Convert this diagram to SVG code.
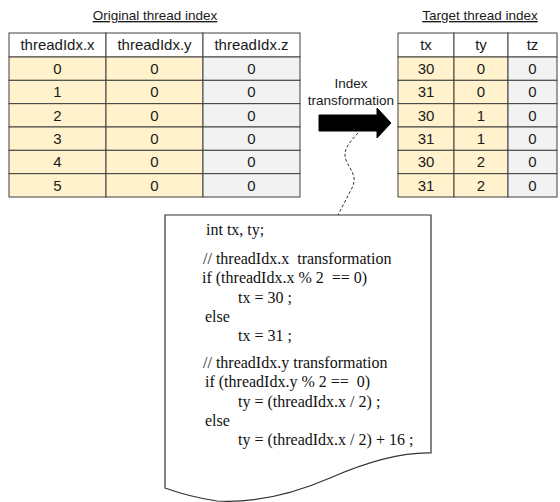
<svg xmlns="http://www.w3.org/2000/svg" width="560" height="502" viewBox="0 0 560 502">
<style>
.t{font-family:"Liberation Sans",Arial,sans-serif;font-size:15px;fill:#1a1a1a;text-anchor:middle}
.ti{font-family:"Liberation Sans",Arial,sans-serif;font-size:13.5px;fill:#1a1a1a;text-anchor:middle;text-decoration:underline}
.c{font-family:"Liberation Serif","Times New Roman",serif;font-size:16px;fill:#111;white-space:pre}
.y{fill:#FFF2CC;stroke:#404040;stroke-width:1}
.g{fill:#F2F2F2;stroke:#404040;stroke-width:1}
.w{fill:#FFFFFF;stroke:#404040;stroke-width:1}
</style>
<g id="title-original"><text class="ti" x="155" y="20">Original thread index</text></g>
<g id="title-target"><text class="ti" x="480" y="20">Target thread index</text></g>

<g id="table-original">
<rect class="w" x="9" y="33" width="97" height="24"/>
<rect class="w" x="106" y="33" width="97" height="24"/>
<rect class="w" x="203" y="33" width="97" height="24"/>
<text class="t" x="57.5" y="50">threadIdx.x</text>
<text class="t" x="154.5" y="50">threadIdx.y</text>
<text class="t" x="251.5" y="50">threadIdx.z</text>
<rect class="y" x="9" y="57" width="97" height="23.33"/><rect class="y" x="106" y="57" width="97" height="23.33"/><rect class="g" x="203" y="57" width="97" height="23.33"/>
<rect class="y" x="9" y="80.33" width="97" height="23.33"/><rect class="y" x="106" y="80.33" width="97" height="23.33"/><rect class="g" x="203" y="80.33" width="97" height="23.33"/>
<rect class="y" x="9" y="103.67" width="97" height="23.33"/><rect class="y" x="106" y="103.67" width="97" height="23.33"/><rect class="g" x="203" y="103.67" width="97" height="23.33"/>
<rect class="y" x="9" y="127" width="97" height="23.33"/><rect class="y" x="106" y="127" width="97" height="23.33"/><rect class="g" x="203" y="127" width="97" height="23.33"/>
<rect class="y" x="9" y="150.33" width="97" height="23.33"/><rect class="y" x="106" y="150.33" width="97" height="23.33"/><rect class="g" x="203" y="150.33" width="97" height="23.33"/>
<rect class="y" x="9" y="173.67" width="97" height="23.33"/><rect class="y" x="106" y="173.67" width="97" height="23.33"/><rect class="g" x="203" y="173.67" width="97" height="23.33"/>
<text class="t" x="57.5" y="74">0</text><text class="t" x="154.5" y="74">0</text><text class="t" x="251.5" y="74">0</text>
<text class="t" x="57.5" y="97.3">1</text><text class="t" x="154.5" y="97.3">0</text><text class="t" x="251.5" y="97.3">0</text>
<text class="t" x="57.5" y="120.7">2</text><text class="t" x="154.5" y="120.7">0</text><text class="t" x="251.5" y="120.7">0</text>
<text class="t" x="57.5" y="144">3</text><text class="t" x="154.5" y="144">0</text><text class="t" x="251.5" y="144">0</text>
<text class="t" x="57.5" y="167.3">4</text><text class="t" x="154.5" y="167.3">0</text><text class="t" x="251.5" y="167.3">0</text>
<text class="t" x="57.5" y="190.7">5</text><text class="t" x="154.5" y="190.7">0</text><text class="t" x="251.5" y="190.7">0</text>
</g>

<g id="table-target">
<rect class="w" x="398" y="33" width="56" height="24"/>
<rect class="w" x="454" y="33" width="54" height="24"/>
<rect class="w" x="508" y="33" width="49" height="24"/>
<text class="t" x="426" y="50">tx</text>
<text class="t" x="481" y="50">ty</text>
<text class="t" x="532.5" y="50">tz</text>
<rect class="y" x="398" y="57" width="56" height="23.33"/><rect class="y" x="454" y="57" width="54" height="23.33"/><rect class="g" x="508" y="57" width="49" height="23.33"/>
<rect class="y" x="398" y="80.33" width="56" height="23.33"/><rect class="y" x="454" y="80.33" width="54" height="23.33"/><rect class="g" x="508" y="80.33" width="49" height="23.33"/>
<rect class="y" x="398" y="103.67" width="56" height="23.33"/><rect class="y" x="454" y="103.67" width="54" height="23.33"/><rect class="g" x="508" y="103.67" width="49" height="23.33"/>
<rect class="y" x="398" y="127" width="56" height="23.33"/><rect class="y" x="454" y="127" width="54" height="23.33"/><rect class="g" x="508" y="127" width="49" height="23.33"/>
<rect class="y" x="398" y="150.33" width="56" height="23.33"/><rect class="y" x="454" y="150.33" width="54" height="23.33"/><rect class="g" x="508" y="150.33" width="49" height="23.33"/>
<rect class="y" x="398" y="173.67" width="56" height="23.33"/><rect class="y" x="454" y="173.67" width="54" height="23.33"/><rect class="g" x="508" y="173.67" width="49" height="23.33"/>
<text class="t" x="426" y="74">30</text><text class="t" x="481" y="74">0</text><text class="t" x="532.5" y="74">0</text>
<text class="t" x="426" y="97.3">31</text><text class="t" x="481" y="97.3">0</text><text class="t" x="532.5" y="97.3">0</text>
<text class="t" x="426" y="120.7">30</text><text class="t" x="481" y="120.7">1</text><text class="t" x="532.5" y="120.7">0</text>
<text class="t" x="426" y="144">31</text><text class="t" x="481" y="144">1</text><text class="t" x="532.5" y="144">0</text>
<text class="t" x="426" y="167.3">30</text><text class="t" x="481" y="167.3">2</text><text class="t" x="532.5" y="167.3">0</text>
<text class="t" x="426" y="190.7">31</text><text class="t" x="481" y="190.7">2</text><text class="t" x="532.5" y="190.7">0</text>
</g>

<g id="label-transform">
<text class="t" style="font-size:13.5px" x="351" y="88">Index</text>
<text class="t" style="font-size:13.5px" x="351" y="105">transformation</text>
</g>

<g id="connectors">
<polygon id="arrow" points="319,115 377,115 377,108 391,123 377,138 377,131 319,131" fill="#000" stroke="#000" stroke-width="1"/>
<path d="M358,133 C350,142 342,150 346,160 C350,170 358,176 352,188 L338,215" fill="none" stroke="#333" stroke-width="1" stroke-dasharray="3,2"/>
</g>

<g id="code-note">
<path d="M165,215 H431 V453 Q390,452 330,478 Q270,504 217,501 Q190,497 165,488 Z" fill="#fff" stroke="#333" stroke-width="1.2"/>
<text class="c" x="206" y="235">int tx, ty;</text>
<text class="c" x="203" y="264">// threadIdx.x  transformation</text>
<text class="c" x="202" y="283">if (threadIdx.x % 2  == 0)</text>
<text class="c" x="238" y="303">tx = 30 ;</text>
<text class="c" x="205" y="322">else</text>
<text class="c" x="238" y="341">tx = 31 ;</text>
<text class="c" x="203" y="368">// threadIdx.y transformation</text>
<text class="c" x="205" y="387">if (threadIdx.y % 2 ==  0)</text>
<text class="c" x="238" y="407">ty = (threadIdx.x / 2) ;</text>
<text class="c" x="205" y="426">else</text>
<text class="c" x="238" y="445">ty = (threadIdx.x / 2) + 16 ;</text>
</g>
</svg>
